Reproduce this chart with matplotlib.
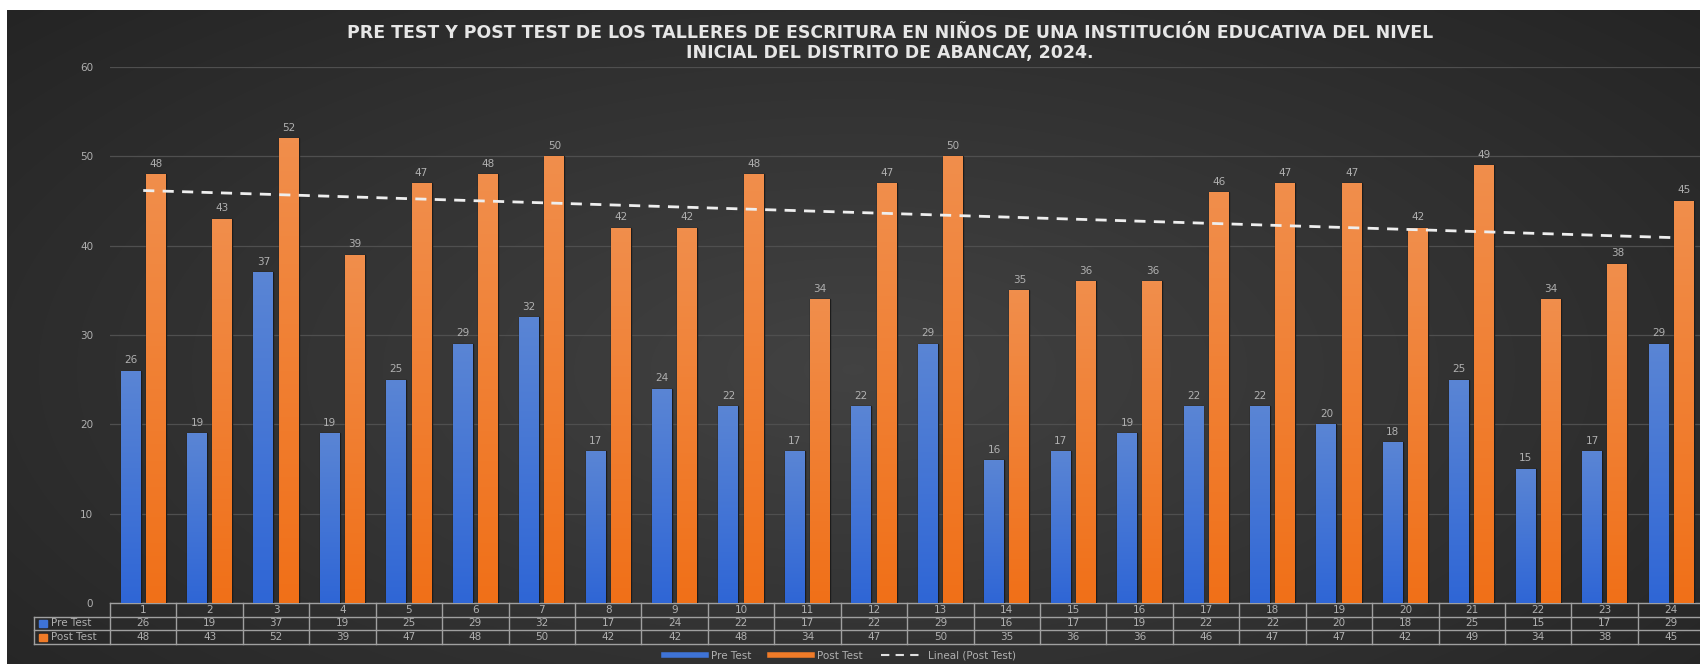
import numpy as np
import matplotlib
matplotlib.use("Agg")
import matplotlib.pyplot as plt
import matplotlib.transforms as mtransforms
from matplotlib.lines import Line2D
from matplotlib.patches import Rectangle
from matplotlib.colors import LinearSegmentedColormap

# Data
categories = [str(i) for i in range(1, 25)]
pre_test = [26, 19, 37, 19, 25, 29, 32, 17, 24, 22, 17, 22, 29, 16, 17, 19, 22, 22, 20, 18, 25, 15, 17, 29]
post_test = [48, 43, 52, 39, 47, 48, 50, 42, 42, 48, 34, 47, 50, 35, 36, 36, 46, 47, 47, 42, 49, 34, 38, 45]
series_names = ['Pre Test', 'Post Test']
title = ("PRE TEST Y POST TEST DE LOS TALLERES DE ESCRITURA EN NIÑOS DE UNA INSTITUCIÓN EDUCATIVA DEL NIVEL\n"
         "INICIAL DEL DISTRITO DE ABANCAY, 2024.")

blue = '#3e73d6'
orange = '#f07b28'
text_gray = '#b0b0b0'
line_gray = '#a0a0a0'

W, H = 1700, 664
fig = plt.figure(figsize=(W / 100, H / 100), dpi=100, facecolor='white')

# dark radial-gradient background (white strip on top and left like the screenshot)
bg = fig.add_axes([7 / W, 0, 1 - 7 / W, 1 - 10 / H])
bg.set_axis_off()
yy, xx = np.mgrid[0:1:300j, 0:1:700j]
r = np.sqrt(((xx - 0.5) / 0.75) ** 2 + ((yy - 0.55) / 0.9) ** 2)
shade = np.clip(0.26 - 0.13 * r, 0.14, 0.26)
bg.imshow(np.dstack([shade] * 3), aspect='auto', extent=(0, 1, 0, 1), interpolation='bicubic')

ax = fig.add_axes([110 / W, 61 / H, (W - 110) / W, 536 / H])
ax.set_facecolor('none')
x = np.arange(1, len(categories) + 1)

bw = 0.30
off = 0.19
b1 = ax.bar(x - off, pre_test, bw, color=blue, edgecolor='#1c1c1c', linewidth=1.0, zorder=3)
b2 = ax.bar(x + off, post_test, bw, color=orange, edgecolor='#1c1c1c', linewidth=1.0, zorder=3)

# vertical gradient inside each bar: saturated at the base, lighter at the top
grad = np.linspace(0, 1, 100).reshape(-1, 1)
cmaps = {blue: LinearSegmentedColormap.from_list('b', ['#2f66d6', '#5a85d4']),
         orange: LinearSegmentedColormap.from_list('o', ['#f07018', '#f08e4c'])}
for bars, col in [(b1, blue), (b2, orange)]:
    for p in bars:
        x0, y0 = p.get_x(), p.get_y()
        im = ax.imshow(grad, cmap=cmaps[col], aspect='auto', zorder=3.1, origin='lower',
                       extent=(x0, x0 + p.get_width(), y0, y0 + p.get_height()))
        im.set_clip_path(p)
ax.set_xlim(0.5, 0.5 + (W - 110) / 66.43)
ax.set_ylim(0, 60)

ax.bar_label(b1, padding=4, color=text_gray, fontsize=7.5)
ax.bar_label(b2, padding=4, color=text_gray, fontsize=7.5)

# linear trendline of the post test
k, c = np.polyfit(x, post_test, 1)
ax.plot([x[0], x[-1]], [k * x[0] + c, k * x[-1] + c], color='#eeeeee', lw=2,
        linestyle=(0, (4, 3)), zorder=4)

ax.set_yticks(range(0, 61, 10))
ax.yaxis.grid(True, color='#4f4f4f', lw=0.9, zorder=0)
ax.set_xticks([])
ax.tick_params(axis='y', length=0, pad=12, labelcolor=text_gray, labelsize=7.5)
for s in ax.spines.values():
    s.set_visible(False)

# data table under the chart
rows_y = [603, 617, 630, 644]
fy = lambda p: 1 - p / H
trans = mtransforms.blended_transform_factory(ax.transData, fig.transFigure)
ax.plot([0.5, 30], [fy(rows_y[0])] * 2, transform=trans, color=line_gray, lw=1, clip_on=False)
for yv in rows_y[1:]:
    fig.add_artist(Line2D([34 / W, 1], [fy(yv)] * 2, color=line_gray, lw=1))
fig.add_artist(Line2D([34 / W] * 2, [fy(rows_y[1]), fy(rows_y[3])], color=line_gray, lw=1))
for b in np.arange(0.5, 25.5, 1):
    ax.plot([b, b], [fy(rows_y[0]), fy(rows_y[3])], transform=trans, color=line_gray, lw=1, clip_on=False)

centers = [(rows_y[i] + rows_y[i + 1]) / 2 for i in range(3)]
for i, cat in enumerate(categories):
    for row, val in zip(centers, [cat, pre_test[i], post_test[i]]):
        ax.text(x[i], fy(row), str(val), transform=trans, ha='center', va='center',
                color=text_gray, fontsize=7.5, clip_on=False)

for row, name, col in zip(centers[1:], series_names, [blue, orange]):
    fig.add_artist(Rectangle((39 / W, fy(row) - 3.5 / H), 8 / W, 7 / H, color=col))
    fig.text(51 / W, fy(row), name, ha='left', va='center', color=text_gray, fontsize=7.5)

fig.text(890 / W, fy(43), title, ha='center', va='center', fontsize=12.5, fontweight='bold',
         color='#e6e6e6', linespacing=1.2)

handles = [Line2D([], [], color=blue, lw=4),
           Line2D([], [], color=orange, lw=4),
           Line2D([], [], color='#e0e0e0', lw=1.5, linestyle=(0, (4, 3)))]
fig.legend(handles, ['Pre Test', 'Post Test', 'Lineal (Post Test)'], loc='center',
           bbox_to_anchor=(840 / W, fy(656)), ncol=3, frameon=False, fontsize=7.5,
           labelcolor=text_gray, handlelength=4, columnspacing=1.8, handletextpad=0.5)

fig.savefig('out.png', dpi=100, facecolor=fig.get_facecolor())
